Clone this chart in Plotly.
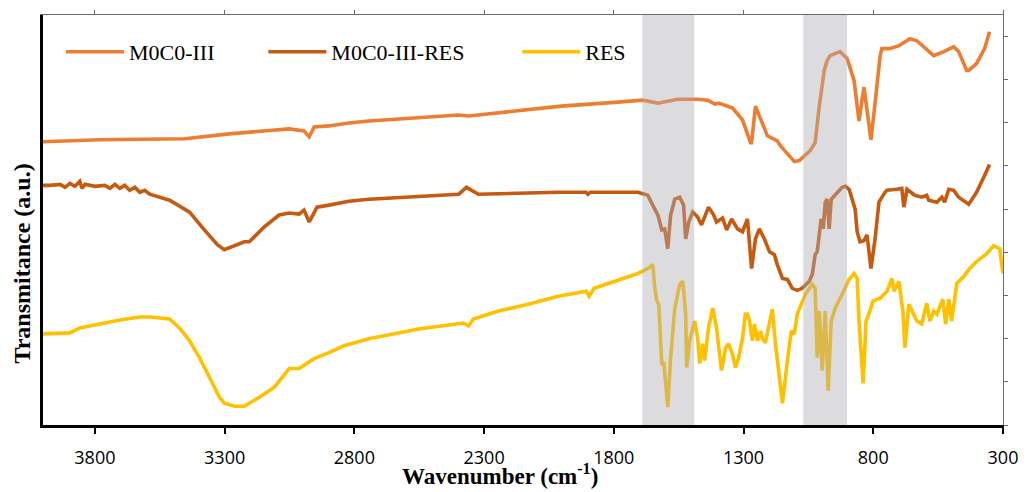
import plotly.graph_objects as go

# FTIR spectra: wavenumber (cm-1) and transmittance (arbitrary units, stacked offsets)
wn_m0c0 = [4000, 3781, 3454, 3282, 3051, 2994, 2974, 2955, 2898, 2821, 2744, 2398, 2360, 2003,
           1784, 1688, 1630, 1554, 1477, 1438, 1411, 1396, 1342, 1304, 1273, 1269, 1254, 1208,
           1170, 1158, 1104, 1085, 1043, 1024, 1008, 989, 978, 966, 928, 901, 874, 855, 836,
           809, 793, 774, 767, 736, 701, 659, 632, 567, 528, 490, 471, 440, 432, 413, 402,
           371, 352]
tr_m0c0 = [286, 288, 289, 294, 299, 297, 291, 301, 302, 305, 307, 313, 312, 322,
           326, 328, 325, 329, 329, 328, 324, 325, 320, 308, 285, 285, 322, 292,
           287, 282, 266, 267, 277, 285, 322, 358, 368, 373, 377, 370, 348, 307, 341,
           288, 325, 372, 380, 380, 383, 390, 388, 373, 377, 382, 377, 358, 358, 363, 365,
           380, 397]

wn_m0c0_res = [4000, 3973, 3934, 3915, 3896, 3877, 3858, 3850, 3838, 3800, 3762, 3742, 3723,
               3704, 3685, 3666, 3646, 3627, 3608, 3589, 3512, 3435, 3378, 3328, 3301, 3224,
               3205, 3147, 3090, 3051, 3013, 2994, 2974, 2944, 2898, 2821, 2744, 2398, 2368,
               2348, 2322, 2014, 1907, 1900, 1890, 1707, 1669, 1650, 1630, 1615, 1604, 1592,
               1581, 1565, 1546, 1531, 1523, 1511, 1496, 1477, 1462, 1435, 1415, 1404, 1381,
               1365, 1346, 1323, 1304, 1285, 1269, 1254, 1239, 1220, 1200, 1181, 1170, 1150,
               1131, 1112, 1093, 1074, 1047, 1035, 1024, 1016, 1008, 1001, 993, 985, 978, 970,
               962, 939, 920, 908, 893, 870, 862, 851, 836, 824, 809, 793, 778, 755, 747, 709,
               690, 682, 670, 640, 613, 594, 586, 555, 536, 525, 509, 490, 471, 432, 402, 371,
               352]
tr_m0c0_res = [242, 242, 243, 240, 244, 241, 246, 239, 243, 241, 242, 239, 243,
               239, 242, 237, 240, 235, 237, 233, 227, 215, 197, 182, 177, 185,
               185, 200, 212, 214, 213, 217, 205, 220, 222, 226, 228, 233, 240,
               237, 233, 235, 235, 233, 235, 235, 232, 222, 212, 197, 198, 178,
               212, 228, 230, 222, 188, 205, 215, 210, 202, 220, 212, 205, 209,
               197, 208, 198, 195, 208, 158, 188, 198, 188, 175, 172, 162, 148,
               147, 138, 136, 138, 145, 152, 172, 175, 195, 208, 198, 225, 228, 198,
               228, 235, 240, 241, 238, 218, 195, 185, 186, 192, 158, 188, 225, 235, 237, 238,
               239, 220, 238, 232, 230, 232, 227, 225, 230, 225, 238, 237, 230, 223, 235, 252,
               263]

wn_res = [4000, 3896, 3858, 3781, 3704, 3627, 3589, 3512, 3474, 3435, 3397, 3358, 3320, 3301,
          3262, 3224, 3166, 3109, 3051, 3013, 2955, 2898, 2840, 2744, 2552, 2379, 2360, 2341,
          2245, 2130, 2014, 1907, 1895, 1876, 1784, 1707, 1669, 1650, 1642, 1634, 1627, 1615,
          1607, 1600, 1592, 1581, 1565, 1546, 1534, 1523, 1519, 1508, 1488, 1477, 1469, 1458,
          1450, 1435, 1419, 1404, 1385, 1369, 1358, 1343, 1331, 1319, 1304, 1293, 1285, 1277,
          1266, 1258, 1246, 1235, 1227, 1216, 1189, 1177, 1162, 1150, 1131, 1116, 1104, 1093,
          1062, 1035, 1024, 1016, 1008, 997, 985, 974, 962, 947, 920, 893, 874, 862, 855, 839,
          828, 817, 801, 774, 747, 728, 720, 701, 686, 678, 663, 651, 632, 613, 594, 582, 567,
          555, 532, 521, 509, 498, 478, 451, 428, 402, 363, 336, 313, 300]
tr_res = [92, 93, 98, 102, 106, 109, 109, 107, 98, 85, 68, 48, 28, 22,
          19, 19, 28, 38, 57, 57, 67, 73, 80, 87, 97, 103, 100, 107,
          115, 122, 130, 135, 130, 138, 146, 153, 158, 162, 138, 125, 122, 62,
          62, 45, 18, 68, 118, 142, 145, 112, 58, 85, 105, 88, 62, 82,
          65, 98, 118, 98, 55, 78, 82, 72, 58, 68, 88, 112, 112, 105,
          85, 102, 85, 95, 87, 83, 117, 82, 45, 22, 65, 95, 92, 112,
          132, 142, 138, 68, 115, 55, 115, 35, 105, 118, 132, 147, 153, 148, 105, 42,
          105, 112, 125, 128, 135, 148, 135, 145, 115, 78, 122, 115, 105, 102, 123, 105, 115,
          112, 127, 102, 127, 105, 143, 150, 158, 165, 173, 181, 178, 153]

x_ticks = [3800, 3300, 2800, 2300, 1800, 1300, 800, 300]
x_range = [4000, 300]
y_range = [0, 414]
y_step = 43.6
bands = [(1690, 1490), (1070, 901)]

series = [
    ("M0C0-III", wn_m0c0, tr_m0c0, "#ED7D31", "legend"),
    ("M0C0-III-RES", wn_m0c0_res, tr_m0c0_res, "#C55A11", "legend2"),
    ("RES", wn_res, tr_res, "#FFC000", "legend3"),
]

fig = go.Figure()
for name, xs, ys, color, leg in series:
    fig.add_trace(go.Scatter(x=xs, y=ys, mode="lines", name=name, legend=leg,
                             line=dict(color=color, width=3.6, shape="linear")))

# highlighted absorption bands, drawn over the spectra
for x0, x1 in bands:
    fig.add_shape(type="rect", xref="x", yref="paper", x0=x0, x1=x1, y0=0, y1=1,
                  fillcolor="rgb(172,172,178)", opacity=0.42, line=dict(width=0),
                  layer="above")

serif = "Liberation Serif"
legend_style = dict(orientation="h", y=0.91, xanchor="left", yanchor="middle",
                    font=dict(family=serif, size=22, color="black"),
                    bgcolor="rgba(0,0,0,0)", itemwidth=58)

fig.update_layout(
    width=1029, height=492,
    margin=dict(l=43, r=23, t=11, b=67),
    paper_bgcolor="white", plot_bgcolor="white",
    showlegend=True,
    legend=dict(x=0.0187, **legend_style),
    legend2=dict(x=0.2295, **legend_style),
    legend3=dict(x=0.494, **legend_style),
    xaxis=dict(range=x_range, tickvals=x_ticks, showgrid=False, zeroline=False,
               showline=True, linecolor="black", linewidth=3,
               ticks="outside", ticklen=6, tickwidth=1.5, tickcolor="black",
               ticklabelstandoff=8,
               tickfont=dict(family="Open Sans", size=18, color="black")),
    yaxis=dict(range=y_range, showticklabels=False, showgrid=False, zeroline=False,
               showline=True, linecolor="black", linewidth=3, ticks=""),
    xaxis2=dict(range=x_range, overlaying="x", side="top", tickvals=x_ticks,
                showticklabels=False, showgrid=False, zeroline=False,
                showline=True, linecolor="#6b6b6b", linewidth=1,
                ticks="outside", ticklen=4, tickcolor="#6b6b6b"),
    yaxis2=dict(range=y_range, overlaying="y", side="right", tick0=0, dtick=y_step,
                showticklabels=False, showgrid=False, zeroline=False,
                showline=True, linecolor="#6b6b6b", linewidth=1,
                ticks="outside", ticklen=4, tickcolor="#6b6b6b"),
    annotations=[
        dict(text="<b>Wavenumber (cm<sup>-1</sup>)</b>", xref="paper", yref="paper",
             x=0.4756, y=-0.161, xanchor="center", yanchor="bottom", showarrow=False,
             font=dict(family=serif, size=23, color="black")),
        dict(text="<b>Transmitance (a.u.)</b>", xref="paper", yref="paper",
             x=-0.0218, y=0.394, xanchor="center", yanchor="middle", showarrow=False,
             textangle=-90, font=dict(family=serif, size=24, color="black")),
    ],
)

# invisible helper trace so the secondary frame axes are rendered
fig.add_trace(go.Scatter(x=[None], y=[None], xaxis="x2", yaxis="y2",
                         showlegend=False, hoverinfo="skip"))

fig.write_html("out.html")
